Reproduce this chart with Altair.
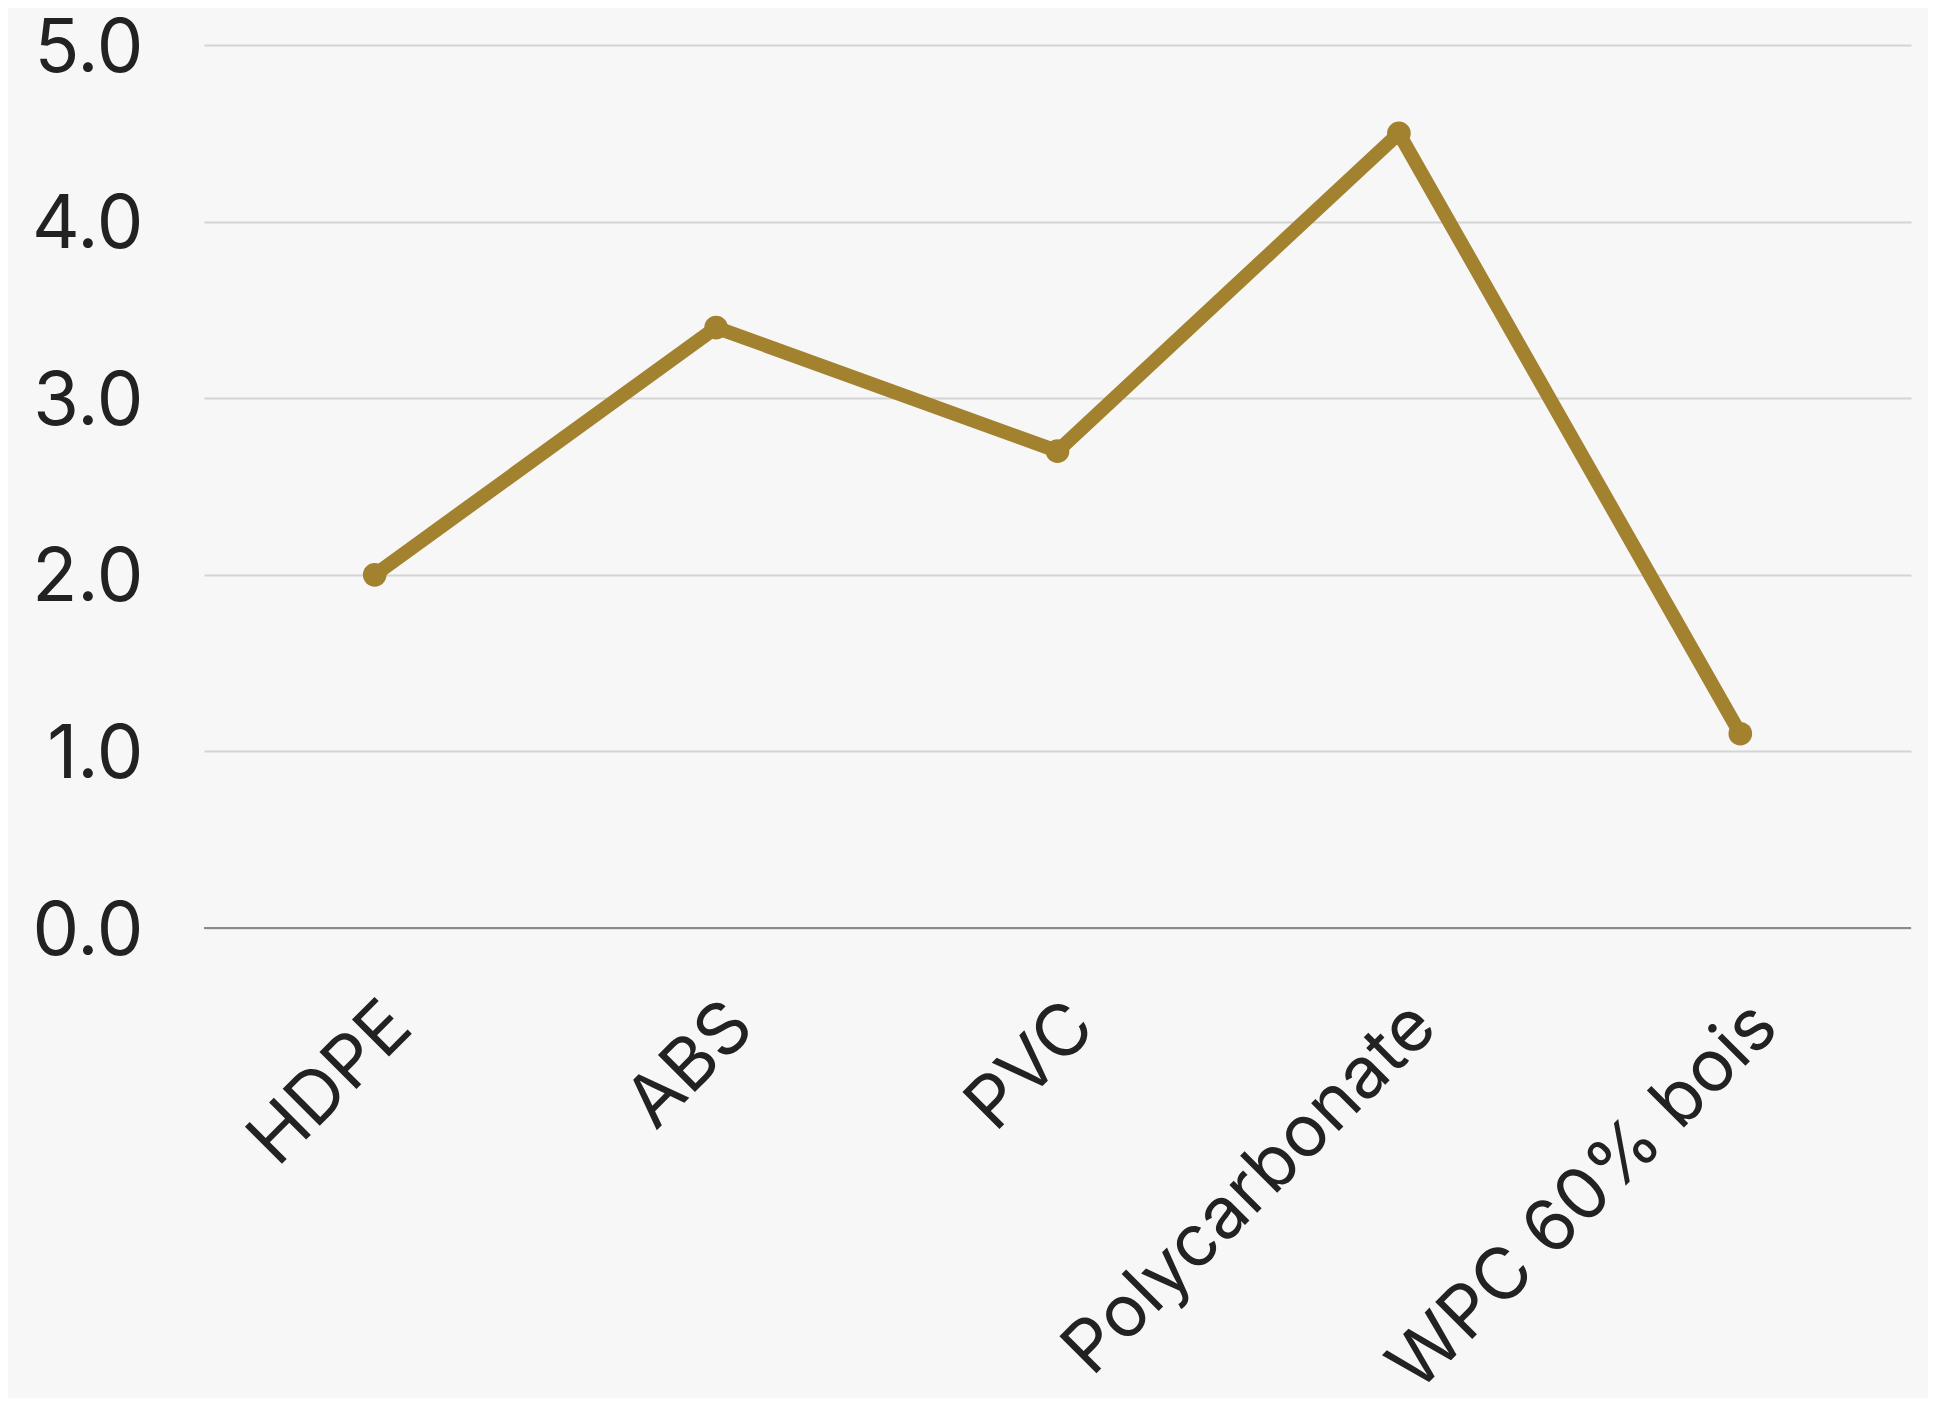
import altair as alt
import pandas as pd

materials = ["HDPE", "ABS", "PVC", "Polycarbonate", "WPC 60% bois"]
values = [2.0, 3.4, 2.7, 4.5, 1.1]

df = pd.DataFrame({"material": materials, "value": values})
zero = pd.DataFrame({"y": [0]})

LINE = "#a3822f"
BG = "#f7f7f7"
FONT = "Inter"

x_enc = alt.X(
    "material:N",
    sort=materials,
    scale=alt.Scale(type="point", padding=0.5),
    axis=alt.Axis(
        title=None,
        labelAngle=-45,
        labelAlign="right",
        labelBaseline="alphabetic",
        labelOffset=40,
        labelPadding=102,
        labelFontSize=72,
        labelFont=FONT,
        labelColor="#222222",
        labelLimit=2000,
        labelOverlap=False,
        ticks=False,
        domain=False,
        grid=False,
    ),
)
y_enc = alt.Y(
    "value:Q",
    scale=alt.Scale(domain=[0, 5], nice=False),
    axis=alt.Axis(
        title=None,
        values=[0, 1, 2, 3, 4, 5],
        format=".1f",
        labelPadding=61,
        labelFontSize=74,
        labelOffset=4,
        labelFont=FONT,
        labelColor="#222222",
        labelLimit=2000,
        ticks=False,
        domain=False,
        grid=True,
        gridColor="#d4d4d4",
        gridWidth=2,
    ),
)

line = alt.Chart(df).mark_line(color=LINE, strokeWidth=14).encode(x=x_enc, y=y_enc)
pts = alt.Chart(df).mark_point(filled=True, color=LINE, size=560, opacity=1).encode(x=x_enc, y=y_enc)
rule = alt.Chart(zero).mark_rule(color="#8a8a8a", strokeWidth=2).encode(y="y:Q")

chart = (
    alt.layer(rule, line, pts)
    .properties(
        width=1707,
        height=883,
        background=BG,
        padding={"left": 196, "top": 37, "right": 17, "bottom": 470},
        autosize=alt.AutoSizeParams(type="none"),
    )
    .configure_view(stroke=None)
)

chart.save("out.html", embed_options={"renderer": "svg", "actions": False})
